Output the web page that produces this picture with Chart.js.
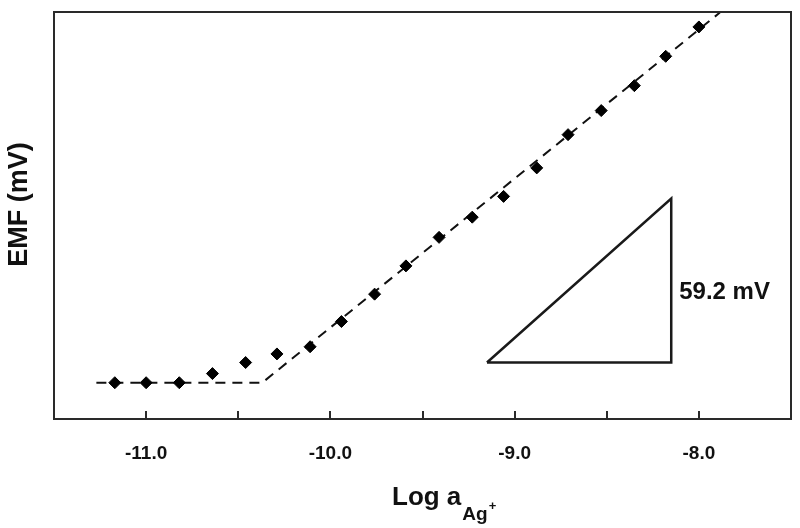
<!DOCTYPE html>
<html>
<head>
<meta charset="utf-8">
<script src="https://cdn.jsdelivr.net/npm/chart.js@4"></script>
<style>
  html, body { margin: 0; padding: 0; background: #fff; }
  #wrap { width: 800px; height: 528px; }
</style>
</head>
<body>
<div id="wrap"><canvas id="myChart" width="800" height="528"></canvas></div>
<script>
// measured points: log activity vs EMF (mV)
const logA = [-11.17, -11.0, -10.82, -10.64, -10.46, -10.29, -10.11, -9.94, -9.76, -9.59, -9.41, -9.23, -9.06, -8.88, -8.71, -8.53, -8.35, -8.18, -8.0];
const emf = [13.1, 13.1, 13.1, 16.4, 20.4, 23.5, 26.1, 35.2, 45.1, 55.3, 65.6, 72.9, 80.4, 90.7, 102.7, 111.4, 120.4, 131.0, 141.6];

// dashed fit line (flat part + nernstian part)
const fitX = [-11.27, -10.37, -7.886];
const fitY = [13.1, 13.1, 146.8];

// slope triangle, 1 decade wide
const triX = [-9.15, -8.15, -8.15, -9.15];
const triY = [20.4, 20.4, 79.6, 20.4];
const triLabel = '59.2 mV';
const triLabelAt = [-8.15, 45.9];

const FONT = '"Liberation Sans", Arial, sans-serif';

const toPts = (xs, ys) => xs.map((x, i) => ({ x: x, y: ys[i] }));

// frame, inside ticks, titles and the triangle label
const decor = {
  id: 'decor',
  afterDraw(chart) {
    const c = chart.ctx;
    const a = chart.chartArea;
    const xs = chart.scales.x;
    const ys = chart.scales.y;
    c.save();
    c.strokeStyle = '#2a2a2a';
    c.lineWidth = 2;
    c.strokeRect(a.left, a.top, a.right - a.left, a.bottom - a.top);
    // ticks pointing into the plot
    c.beginPath();
    xs.ticks.forEach(t => {
      if (t.value <= xs.min || t.value >= xs.max) return;
      const px = Math.round(xs.getPixelForValue(t.value));
      c.moveTo(px, a.bottom);
      c.lineTo(px, a.bottom - 8);
    });
    c.stroke();

    c.fillStyle = '#111';
    // triangle label
    c.font = 'bold 24px ' + FONT;
    c.textAlign = 'left';
    c.textBaseline = 'middle';
    c.fillText(triLabel, xs.getPixelForValue(triLabelAt[0]) + 8, ys.getPixelForValue(triLabelAt[1]));

    // y title
    c.save();
    c.translate(20, (a.top + a.bottom) / 2 - 11);
    c.rotate(-Math.PI / 2);
    c.textAlign = 'center';
    c.textBaseline = 'middle';
    c.font = 'bold 27px ' + FONT;
    c.fillText('EMF (mV)', 0, 0);
    c.restore();

    // x title with subscript
    let x0 = a.left + 338;
    c.textBaseline = 'alphabetic';
    c.font = 'bold 26px ' + FONT;
    c.fillText('Log a', x0, 505);
    x0 += c.measureText('Log a').width + 1;
    c.font = 'bold 19px ' + FONT;
    c.fillText('Ag', x0, 520);
    x0 += c.measureText('Ag').width + 1;
    c.font = 'bold 13px ' + FONT;
    c.fillText('+', x0, 510);
    c.restore();
  }
};

const ctx = document.getElementById('myChart').getContext('2d');

const myChart = new Chart(ctx, {
  type: 'scatter',
  data: {
    datasets: [{
      label: 'fit',
      data: toPts(fitX, fitY),
      showLine: true,
      borderColor: '#111',
      borderWidth: 2,
      borderDash: [10, 7],
      pointRadius: 0,
      order: 2
    }, {
      label: 'triangle',
      data: toPts(triX, triY),
      showLine: true,
      borderColor: '#1a1a1a',
      borderWidth: 2.5,
      pointRadius: 0,
      order: 3
    }, {
      label: 'EMF',
      data: toPts(logA, emf),
      pointStyle: 'rectRot',
      pointRadius: 6,
      pointBackgroundColor: '#000',
      pointBorderColor: '#000',
      pointBorderWidth: 1,
      order: 1
    }]
  },
  options: {
    responsive: false,
    animation: false,
    layout: { padding: { left: 0, top: 12, right: 9, bottom: 0 } },
    plugins: {
      legend: { display: false },
      tooltip: { enabled: false }
    },
    scales: {
      x: {
        type: 'linear',
        min: -11.5,
        max: -7.5,
        grid: { display: false, drawTicks: false },
        border: { display: false },
        ticks: {
          stepSize: 0.5,
          padding: 23,
          color: '#111',
          font: { family: FONT, size: 19, weight: 'bold' },
          callback: v => Number.isInteger(v) ? v.toFixed(1) : ''
        },
        afterFit: s => { s.height = 109; s.paddingLeft = 0; s.paddingRight = 0; }
      },
      y: {
        min: 0,
        max: 147,
        grid: { display: false, drawTicks: false },
        border: { display: false },
        ticks: { display: false },
        afterFit: s => { s.width = 54; }
      }
    }
  },
  plugins: [decor]
});
</script>
</body>
</html>
